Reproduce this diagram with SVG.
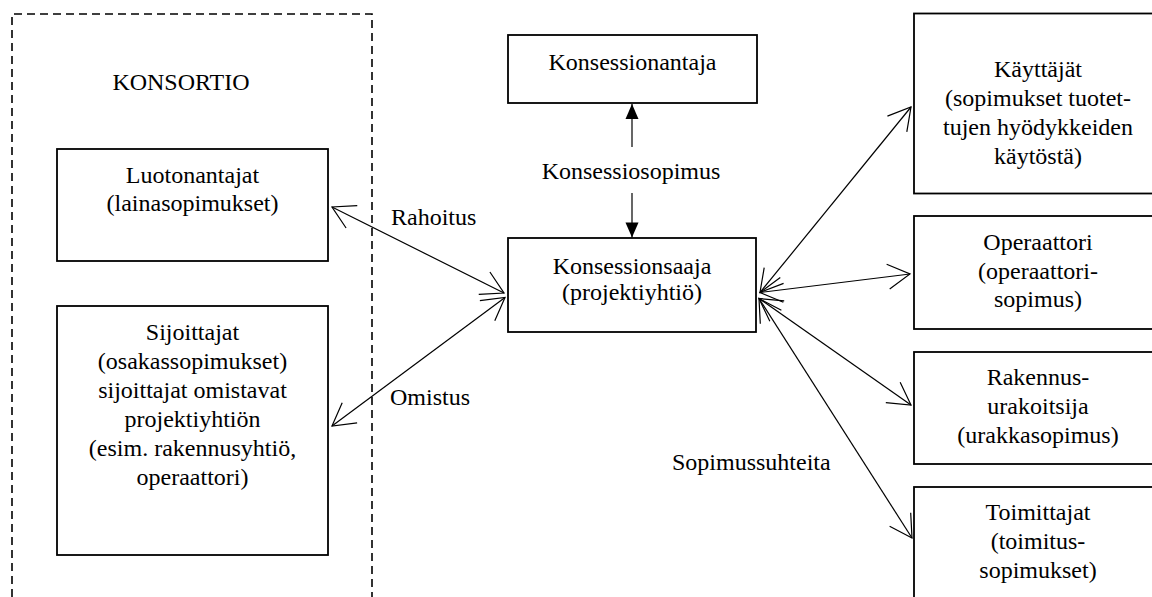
<svg xmlns="http://www.w3.org/2000/svg" width="1152" height="597" viewBox="0 0 1152 597">
<style>
text{font-family:'Liberation Serif','DejaVu Serif','Noto Serif',serif;font-size:24px;fill:#000;text-anchor:middle}
.box{fill:#fff;stroke:#000;stroke-width:1.8}
.conn{stroke:#000;stroke-width:1.2;fill:none}
.lbl{text-anchor:start}
</style>
<defs>
<marker id="open" markerUnits="userSpaceOnUse" markerWidth="40" markerHeight="40" viewBox="-30 -20 40 40" refX="0" refY="0" orient="auto-start-reverse">
<path d="M-22,-12.5 L0,0 L-22,12.5" fill="none" stroke="#000" stroke-width="1.2"/>
</marker>
<marker id="solid" markerUnits="userSpaceOnUse" markerWidth="30" markerHeight="30" viewBox="-20 -15 30 30" refX="0" refY="0" orient="auto">
<path d="M-15,-6.5 L0,0 L-15,6.5 Z" fill="#000"/>
</marker>
</defs>
<rect width="1152" height="597" fill="#fff"/>
<g id="konsortio" font-family="Liberation Serif, serif">
<path d="M12,597 V14 H372 V597" fill="none" stroke="#000" stroke-width="1.6" stroke-dasharray="8,5"/>
<text x="181" y="90">KONSORTIO</text>
</g>
<g id="luotonantajat">
<rect class="box" x="57" y="149" width="271" height="112"/>
<text x="192.5" y="182.5">Luotonantajat</text>
<text x="192.5" y="211">(lainasopimukset)</text>
</g>
<g id="sijoittajat">
<rect class="box" x="57" y="306" width="271" height="249"/>
<text x="192.5" y="339.5">Sijoittajat</text>
<text x="192.5" y="368.5">(osakassopimukset)</text>
<text x="192.5" y="397.5">sijoittajat omistavat</text>
<text x="192.5" y="426.5">projektiyhtiön</text>
<text x="192.5" y="455.5">(esim. rakennusyhtiö,</text>
<text x="192.5" y="484.5">operaattori)</text>
</g>
<g id="konsessionantaja">
<rect class="box" x="508" y="35" width="249" height="68"/>
<text x="632.5" y="69.5">Konsessionantaja</text>
</g>
<g id="konsessionsaaja">
<rect class="box" x="508" y="238" width="248" height="94"/>
<text x="632" y="273.5">Konsessionsaaja</text>
<text x="632" y="300">(projektiyhtiö)</text>
</g>
<g id="kayttajat">
<rect class="box" x="914" y="13.5" width="250" height="180"/>
<text x="1038" y="77">Käyttäjät</text>
<text x="1038" y="106">(sopimukset tuotet-</text>
<text x="1038" y="135">tujen hyödykkeiden</text>
<text x="1038" y="164">käytöstä)</text>
</g>
<g id="operaattori">
<rect class="box" x="914" y="216" width="250" height="113"/>
<text x="1038" y="250">Operaattori</text>
<text x="1038" y="279">(operaattori-</text>
<text x="1038" y="307">sopimus)</text>
</g>
<g id="rakennusurakoitsija">
<rect class="box" x="914" y="352" width="250" height="112"/>
<text x="1038" y="385">Rakennus-</text>
<text x="1038" y="414">urakoitsija</text>
<text x="1038" y="443">(urakkasopimus)</text>
</g>
<g id="toimittajat">
<rect class="box" x="914" y="487" width="250" height="120"/>
<text x="1038" y="519.5">Toimittajat</text>
<text x="1038" y="549">(toimitus-</text>
<text x="1038" y="578">sopimukset)</text>
</g>
<g id="connectors">
<line class="conn" x1="632" y1="147" x2="632" y2="104" marker-end="url(#solid)"/>
<line class="conn" x1="632" y1="193" x2="632" y2="237.5" marker-end="url(#solid)"/>
<line class="conn" x1="332" y1="207" x2="504" y2="293" marker-start="url(#open)" marker-end="url(#open)"/>
<line class="conn" x1="332" y1="426" x2="505" y2="297.5" marker-start="url(#open)" marker-end="url(#open)"/>
<line class="conn" x1="760" y1="292.5" x2="911" y2="107" marker-start="url(#open)" marker-end="url(#open)"/>
<line class="conn" x1="760" y1="292.5" x2="910" y2="274" marker-start="url(#open)" marker-end="url(#open)"/>
<line class="conn" x1="759" y1="298.5" x2="911" y2="405" marker-start="url(#open)" marker-end="url(#open)"/>
<line class="conn" x1="759" y1="298.5" x2="912" y2="538" marker-start="url(#open)" marker-end="url(#open)"/>
<text x="631" y="179">Konsessiosopimus</text>
<text class="lbl" x="391" y="225">Rahoitus</text>
<text class="lbl" x="390" y="405">Omistus</text>
<text class="lbl" x="672" y="470">Sopimussuhteita</text>
</g>
</svg>
